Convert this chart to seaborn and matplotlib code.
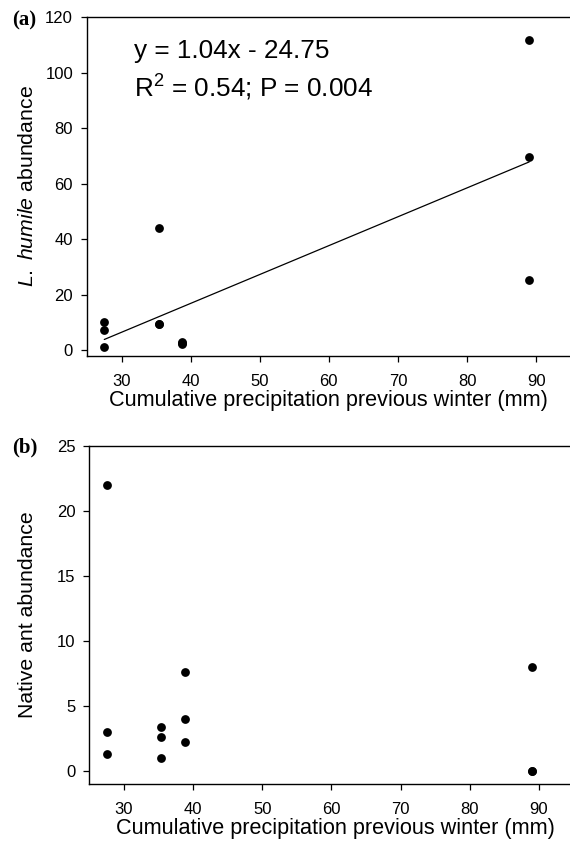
import numpy as np
import pandas as pd
import matplotlib
matplotlib.use("Agg")
import matplotlib.pyplot as plt
import seaborn as sns

# ---- data ----
precip = [27.5, 27.5, 27.5, 35.4, 35.4, 35.4, 38.8, 38.8, 38.8, 89.0, 89.0, 89.0]
humile = [10.3, 7.4, 1.3, 44.1, 9.5, 9.4, 2.9, 2.2, 2.5, 111.6, 69.7, 25.2]
native = [22.0, 3.0, 1.33, 3.4, 2.6, 1.0, 7.6, 4.0, 2.2, 8.0, 0.0, 0.0]
fit_slope = 1.04
fit_intercept = -24.75
eq_text = "y = 1.04x - 24.75"
stat_text = r"R$^2$ = 0.54; P = 0.004"
x_ticks = [30, 40, 50, 60, 70, 80, 90]
y_ticks_a = [0, 20, 40, 60, 80, 100, 120]
y_ticks_b = [0, 5, 10, 15, 20, 25]

sns.set_theme(style="ticks")
plt.rcParams["font.family"] = ["Liberation Sans", "DejaVu Sans"]
plt.rcParams["mathtext.fontset"] = "custom"
plt.rcParams["mathtext.rm"] = "Liberation Sans"
plt.rcParams["mathtext.it"] = "Liberation Sans:italic"
plt.rcParams["mathtext.bf"] = "Liberation Sans:bold"
for k in ("text.color", "axes.labelcolor", "xtick.color", "ytick.color", "axes.edgecolor"):
    plt.rcParams[k] = "black"

df = pd.DataFrame({"precip": precip, "humile": humile, "native": native})
fit_x = np.array([min(precip), max(precip)])
fit_df = pd.DataFrame({"x": fit_x, "y": fit_slope * fit_x + fit_intercept})

fig = plt.figure(figsize=(5.7, 8.49), dpi=100)
ax1 = fig.add_axes([87 / 570, 1 - 356 / 849, 1 - 87 / 570, (356 - 17) / 849])
ax2 = fig.add_axes([89.3 / 570, 1 - 784 / 849, 1 - 89.3 / 570, (784 - 445.7) / 849])

sns.scatterplot(data=df, x="precip", y="humile", ax=ax1, color="black", s=40,
                edgecolor="black", linewidth=0, zorder=3)
sns.lineplot(data=fit_df, x="x", y="y", ax=ax1, color="black", linewidth=0.9, zorder=2)
sns.scatterplot(data=df, x="precip", y="native", ax=ax2, color="black", s=40,
                edgecolor="black", linewidth=0, zorder=3)

ax1.set_xlim(25, 94.9)
ax1.set_ylim(-2.1, 120)
ax2.set_xlim(25, 94.5)
ax2.set_ylim(-1.0, 25)

for ax, yt in ((ax1, y_ticks_a), (ax2, y_ticks_b)):
    ax.set_xticks(x_ticks)
    ax.set_yticks(yt)
    ax.tick_params(axis="both", direction="out", length=4, width=0.9,
                   labelsize=12, color="black", labelcolor="black", pad=6)
    ax.tick_params(axis="x", pad=9)
    for side in ("left", "top", "bottom"):
        ax.spines[side].set_linewidth(1.0)
        ax.spines[side].set_color("black")
    ax.spines["right"].set_visible(False)
    ax.set_xlabel("Cumulative precipitation previous winter (mm)", fontsize=15.6, labelpad=1)
    ax.set_facecolor("white")

ax2.xaxis.label.set_x(0.512)

ax1.set_ylabel(r"$\mathit{L.\ humile}$ abundance", fontsize=15.3, labelpad=6)
ax2.set_ylabel("Native ant abundance", fontsize=15.3, labelpad=14)

ax1.text(0.0973, 0.878, eq_text, transform=ax1.transAxes, fontsize=18.8,
         ha="left", va="baseline")
ax1.text(0.0973, 0.765, stat_text, transform=ax1.transAxes, fontsize=18.8,
         ha="left", va="baseline")

fig.text(12.5 / 570, 1 - 20 / 849, "(a)", fontsize=15, fontweight="bold",
         family=["Liberation Serif", "DejaVu Serif"], ha="left", va="center")
fig.text(12 / 570, 1 - 447 / 849, "(b)", fontsize=15, fontweight="bold",
         family=["Liberation Serif", "DejaVu Serif"], ha="left", va="center")

fig.savefig("out.png", dpi=100, facecolor="white")
